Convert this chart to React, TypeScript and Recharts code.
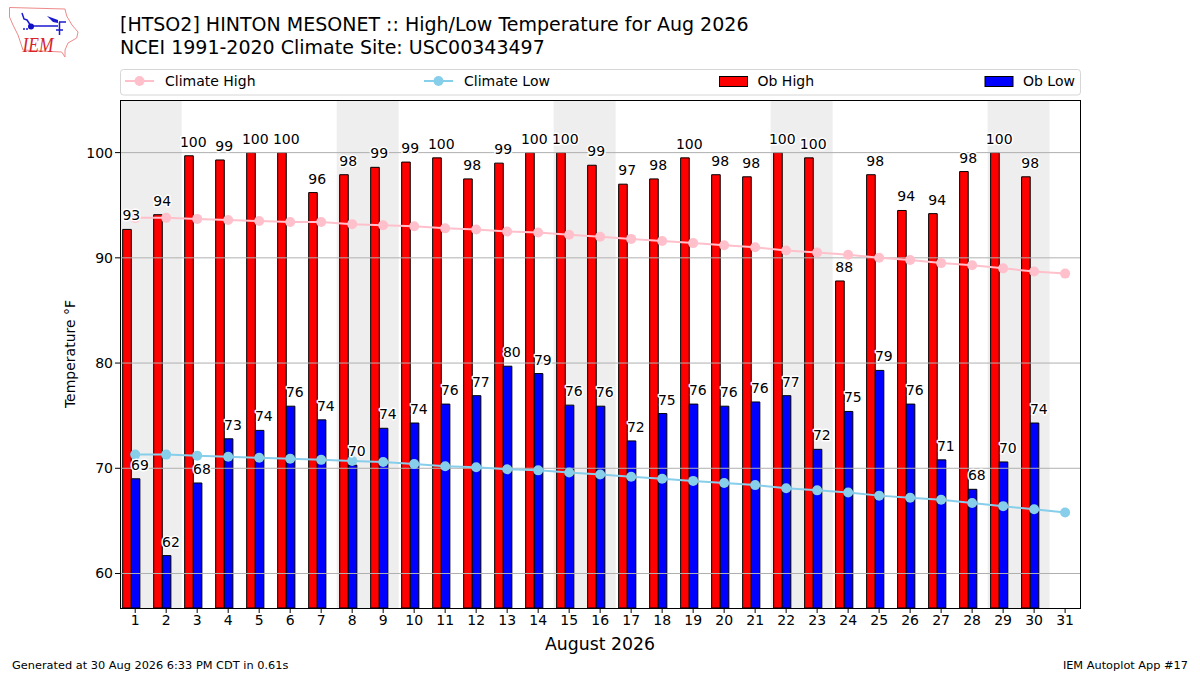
import {
  Bar,
  ComposedChart,
  LabelList,
  Line,
  ReferenceArea,
  ReferenceLine,
  XAxis,
  YAxis,
} from "recharts";

const days = [
  1, 2, 3, 4, 5, 6, 7, 8, 9, 10, 11, 12, 13, 14, 15, 16, 17, 18, 19, 20, 21, 22, 23, 24, 25, 26, 27,
  28, 29, 30, 31,
];
const obHigh = [
  92.7, 94.1, 99.7, 99.3, 100, 100, 96.2, 97.9, 98.6, 99.1, 99.5, 97.5, 99, 100, 100, 98.8, 97, 97.5,
  99.5, 97.9, 97.7, 100, 99.5, 87.8, 97.9, 94.5, 94.2, 98.2, 100, 97.7, null,
];
const obLow = [
  69, 61.7, 68.6, 72.8, 73.6, 75.9, 74.6, 70.3, 73.8, 74.3, 76.1, 76.9, 79.7, 79, 76, 75.9, 72.6, 75.2,
  76.1, 75.9, 76.3, 76.9, 71.8, 75.4, 79.3, 76.1, 70.8, 68, 70.6, 74.3, null,
];
const climateHigh = [
  93.8, 93.8, 93.7, 93.6, 93.5, 93.4, 93.4, 93.2, 93.1, 93, 92.8, 92.7, 92.5, 92.4, 92.2, 92, 91.8, 91.6,
  91.4, 91.2, 91, 90.7, 90.5, 90.3, 90, 89.8, 89.5, 89.3, 89, 88.7, 88.5,
];
const climateLow = [
  71.3, 71.3, 71.2, 71.1, 71, 70.9, 70.8, 70.7, 70.6, 70.4, 70.2, 70.1, 69.9, 69.8, 69.6, 69.4, 69.2, 69,
  68.8, 68.6, 68.4, 68.1, 67.9, 67.7, 67.4, 67.2, 67, 66.7, 66.4, 66.1, 65.8,
];
const highLabels = [
  93, 94, 100, 99, 100, 100, 96, 98, 99, 99, 100, 98, 99, 100, 100, 99, 97, 98, 100, 98, 98, 100, 100, 88,
  98, 94, 94, 98, 100, 98, null,
];
const lowLabels = [
  69, 62, 68, 73, 74, 76, 74, 70, 74, 74, 76, 77, 80, 79, 76, 76, 72, 75, 76, 76, 76, 77, 72, 75, 79, 76,
  71, 68, 70, 74, null,
];
const weekends = [
  [0.51, 2.5],
  [7.5, 9.5],
  [14.5, 16.5],
  [21.5, 23.5],
  [28.5, 30.5],
];
const yTicks = [60, 70, 80, 90, 100];

const data = days.map((day, i) => ({
  day,
  obHigh: obHigh[i],
  obLow: obLow[i],
  climateHigh: climateHigh[i],
  climateLow: climateLow[i],
  highLabel: highLabels[i],
  lowLabel: lowLabels[i],
}));

const FONT = "'DejaVu Sans', sans-serif";

// text sits on the bar's right edge, with the white halo matplotlib puts round it
function BarLabel(props: any) {
  const { x, y, width, value } = props;
  if (value == null) return null;
  return (
    <text
      x={x + width}
      y={y - 9}
      textAnchor="middle"
      fontSize={14}
      fontFamily={FONT}
      fill="#000"
      stroke="#fff"
      strokeWidth={3}
      strokeLinejoin="round"
      style={{ paintOrder: "stroke" }}
    >
      {value}
    </text>
  );
}

function LineKey({ x, color, label }: { x: number; color: string; label: string }) {
  return (
    <g>
      <line x1={x} x2={x + 29} y1={81} y2={81} stroke={color} strokeWidth={2} />
      <circle cx={x + 14.5} cy={81} r={5} fill={color} />
      <text x={x + 40} y={86} fontSize={14} fontFamily={FONT} fill="#000">
        {label}
      </text>
    </g>
  );
}

function BarKey({ x, color, label }: { x: number; color: string; label: string }) {
  return (
    <g>
      <rect x={x} y={76.5} width={28} height={10} fill={color} stroke="#000" />
      <text x={x + 38} y={86} fontSize={14} fontFamily={FONT} fill="#000">
        {label}
      </text>
    </g>
  );
}

function Logo() {
  return (
    <g>
      <path
        d="M9.5 7.5 L65 9 L66.7 16 L72 25 L78 32 L76.7 38 L68 43 L65 50 L65 57 L61.7 52 L23 50 L18 35 L13 25 L9.5 17 Z"
        fill="none"
        stroke="#ee8a8a"
        strokeWidth={1}
      />
      <path
        d="M31 26 H58 M59 22 H66 M59.5 22 V35 M56 30 L63 30 M22 13 L24 19 L27 20 L31 26"
        stroke="#1a1ad0"
        strokeWidth={1.5}
        fill="none"
      />
      <path d="M47 16 L58 20 L58 23 L53 22 Z" fill="#1a1ad0" />
      <circle cx={31} cy={26.5} r={3} fill="#1010c8" />
      <circle cx={24} cy={29} r={1} fill="#1a1ad0" />
      <circle cx={27} cy={29} r={1} fill="#1a1ad0" />
      <text
        x={22.5}
        y={52}
        fontSize={21}
        fontStyle="italic"
        fontFamily="'Liberation Serif', serif"
        fill="#d8232a"
        textLength={31}
        lengthAdjust="spacingAndGlyphs"
      >
        IEM
      </text>
    </g>
  );
}

export default function App() {
  return (
    <div style={{ position: "absolute", left: 0, top: 0, width: 1200, height: 675, background: "#fff", fontFamily: FONT }}>
      <ComposedChart
        width={1200}
        height={675}
        data={data}
        barSize={8.6}
        barGap={0}
        margin={{ top: 100, right: 120, bottom: 0, left: 60 }}
      >
        {weekends.map(([a, b]) => (
          <ReferenceArea key={a} x1={a} x2={b} fill="#eeeeee" fillOpacity={1} stroke="none" />
        ))}
        <XAxis
          type="number"
          dataKey="day"
          domain={[0.51, 31.48]}
          ticks={days}
          interval={0}
          height={67}
          stroke="#000"
          axisLine={false}
          tickSize={5}
          tick={{ fontSize: 14, fontFamily: FONT, fill: "#000" }}
          label={{ value: "August 2026", position: "insideBottom", offset: 25, fontSize: 17.3, fontFamily: FONT, fill: "#000" }}
        />
        <YAxis
          domain={[56.72, 105]}
          ticks={yTicks}
          width={60}
          stroke="#000"
          axisLine={false}
          tickSize={5}
          tick={{ fontSize: 14, fontFamily: FONT, fill: "#000" }}
        />
        <Bar dataKey="obHigh" fill="#ff0000" stroke="#000" strokeWidth={1} isAnimationActive={false}>
          <LabelList dataKey="highLabel" content={BarLabel} />
        </Bar>
        <Bar dataKey="obLow" fill="#0000ff" stroke="#000" strokeWidth={1} isAnimationActive={false}>
          <LabelList dataKey="lowLabel" content={BarLabel} />
        </Bar>
        {/* empty third slot so the low bar stays centred on its tick */}
        <Bar dataKey="none" fill="none" isAnimationActive={false} />
        {/* the reference draws its grid over the bars, CartesianGrid would sit under them */}
        {yTicks.map((t) => (
          <ReferenceLine key={t} y={t} stroke="#b0b0b0" strokeWidth={1} />
        ))}
        <Line
          dataKey="climateHigh"
          stroke="#ffc0cb"
          strokeWidth={2}
          dot={{ r: 5, fill: "#ffc0cb", stroke: "#ffc0cb", strokeWidth: 0 }}
          isAnimationActive={false}
        />
        <Line
          dataKey="climateLow"
          stroke="#87ceeb"
          strokeWidth={2}
          dot={{ r: 5, fill: "#87ceeb", stroke: "#87ceeb", strokeWidth: 0 }}
          isAnimationActive={false}
        />
      </ComposedChart>
      <svg width={1200} height={675} style={{ position: "absolute", left: 0, top: 0, pointerEvents: "none" }}>
        <Logo />
        <text x={120} y={31} fontSize={19} fontFamily={FONT} fill="#000">
          [HTSO2] HINTON MESONET :: High/Low Temperature for Aug 2026
        </text>
        <text x={120} y={54} fontSize={19} fontFamily={FONT} fill="#000">
          NCEI 1991-2020 Climate Site: USC00343497
        </text>
        <rect x={120.5} y={69.5} width={960} height={25.5} rx={3} fill="#fff" stroke="#d6d6d6" />
        <LineKey x={125} color="#ffc0cb" label="Climate High" />
        <LineKey x={424} color="#87ceeb" label="Climate Low" />
        <BarKey x={719.5} color="#ff0000" label="Ob High" />
        <BarKey x={985} color="#0000ff" label="Ob Low" />
        {/* plot frame */}
        <rect x={120.5} y={100.5} width={960} height={508} fill="none" stroke="#000" />
        <text x={75} y={354} fontSize={14} fontFamily={FONT} fill="#000" textAnchor="middle" transform="rotate(-90 75 354)">
          Temperature °F
        </text>
      </svg>
      <div style={{ position: "absolute", left: 12, top: 658, fontSize: 11.33, lineHeight: "14px", color: "#000" }}>
        Generated at 30 Aug 2026 6:33 PM CDT in 0.61s
      </div>
      <div style={{ position: "absolute", right: 12, top: 658, fontSize: 11.33, lineHeight: "14px", color: "#000" }}>
        IEM Autoplot App #17
      </div>
    </div>
  );
}
